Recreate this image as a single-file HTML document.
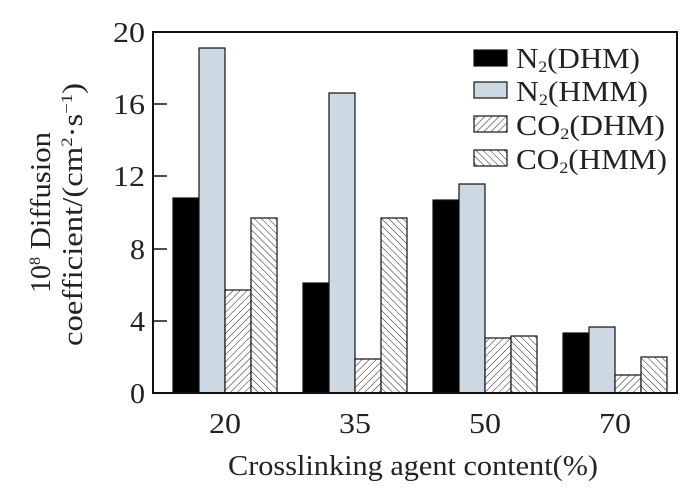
<!DOCTYPE html>
<html><head><style>body{margin:0;background:#fff}svg{display:block;font-family:"Liberation Serif",serif}</style></head><body>
<svg width="698" height="499" viewBox="0 0 698 499" xmlns="http://www.w3.org/2000/svg">
<defs>
<pattern id="f" width="5" height="5" patternUnits="userSpaceOnUse" patternTransform="rotate(45)"><rect width="5" height="5" fill="#fff"/><line x1="0" y1="0" x2="0" y2="5" stroke="#222" stroke-width="1"/></pattern>
<pattern id="b" width="5" height="5" patternUnits="userSpaceOnUse" patternTransform="rotate(-45)"><rect width="5" height="5" fill="#fff"/><line x1="0" y1="0" x2="0" y2="5" stroke="#222" stroke-width="1"/></pattern>
</defs>
<g stroke="#111" stroke-width="1.2">
<rect x="173" y="198" width="26" height="195" fill="#000"/>
<rect x="199" y="48" width="26" height="345" fill="#cdd9e2"/>
<rect x="225" y="290" width="26" height="103" fill="url(#f)"/>
<rect x="251" y="218" width="26" height="175" fill="url(#b)"/>
<rect x="303" y="283" width="26" height="110" fill="#000"/>
<rect x="329" y="93" width="26" height="300" fill="#cdd9e2"/>
<rect x="355" y="359" width="26" height="34" fill="url(#f)"/>
<rect x="381" y="218" width="26" height="175" fill="url(#b)"/>
<rect x="433" y="200" width="26" height="193" fill="#000"/>
<rect x="459" y="184" width="26" height="209" fill="#cdd9e2"/>
<rect x="485" y="338" width="26" height="55" fill="url(#f)"/>
<rect x="511" y="336" width="26" height="57" fill="url(#b)"/>
<rect x="563" y="333" width="26" height="60" fill="#000"/>
<rect x="589" y="327" width="26" height="66" fill="#cdd9e2"/>
<rect x="615" y="375" width="26" height="18" fill="url(#f)"/>
<rect x="641" y="357" width="26" height="36" fill="url(#b)"/>
</g>
<rect x="153" y="32" width="524" height="361" fill="none" stroke="#111" stroke-width="2"/>
<g stroke="#111" stroke-width="1.5">
<line x1="153" y1="321" x2="167" y2="321"/><line x1="153" y1="249" x2="167" y2="249"/><line x1="153" y1="176" x2="167" y2="176"/><line x1="153" y1="104" x2="167" y2="104"/>
</g>
<g font-size="28" text-anchor="end" fill="#222">
<text x="145" y="403" textLength="15" lengthAdjust="spacingAndGlyphs">0</text>
<text x="145" y="331" textLength="15" lengthAdjust="spacingAndGlyphs">4</text>
<text x="145" y="259" textLength="15" lengthAdjust="spacingAndGlyphs">8</text>
<text x="145" y="186" textLength="32" lengthAdjust="spacingAndGlyphs">12</text>
<text x="145" y="114" textLength="32" lengthAdjust="spacingAndGlyphs">16</text>
<text x="145" y="42" textLength="32" lengthAdjust="spacingAndGlyphs">20</text>
</g>
<g font-size="28" fill="#222">
<text x="209" y="433" textLength="32" lengthAdjust="spacingAndGlyphs">20</text>
<text x="339" y="433" textLength="32" lengthAdjust="spacingAndGlyphs">35</text>
<text x="469" y="433" textLength="32" lengthAdjust="spacingAndGlyphs">50</text>
<text x="599" y="433" textLength="32" lengthAdjust="spacingAndGlyphs">70</text>
<text x="228" y="475" textLength="370" lengthAdjust="spacingAndGlyphs">Crosslinking agent content(%)</text>
</g>
<g font-size="28" fill="#222">
<text transform="translate(50,293) rotate(-90)">10<tspan font-size="16" dy="-10">8</tspan><tspan dy="10" textLength="125" lengthAdjust="spacingAndGlyphs"> Diffusion</tspan></text>
<text transform="translate(82,346) rotate(-90)" textLength="263" lengthAdjust="spacingAndGlyphs">coefficient/(cm<tspan font-size="16" dy="-10">2</tspan><tspan dy="10">·s</tspan><tspan font-size="16" dy="-10">−1</tspan><tspan dy="10">)</tspan></text>
</g>
<g stroke="#111" stroke-width="1.2">
<rect x="474" y="50" width="33" height="16" fill="#000"/>
<rect x="474" y="82" width="33" height="16" fill="#cdd9e2"/>
<rect x="474" y="116" width="33" height="16" fill="url(#f)"/>
<rect x="474" y="150" width="33" height="16" fill="url(#b)"/>
</g>
<g font-size="28" fill="#222">
<text x="516" y="68" textLength="124" lengthAdjust="spacingAndGlyphs">N<tspan font-size="16" dy="4">2</tspan><tspan dy="-4">(DHM)</tspan></text>
<text x="516" y="101" textLength="132" lengthAdjust="spacingAndGlyphs">N<tspan font-size="16" dy="4">2</tspan><tspan dy="-4">(HMM)</tspan></text>
<text x="516" y="135" textLength="149" lengthAdjust="spacingAndGlyphs">CO<tspan font-size="16" dy="4">2</tspan><tspan dy="-4">(DHM)</tspan></text>
<text x="516" y="169" textLength="151" lengthAdjust="spacingAndGlyphs">CO<tspan font-size="16" dy="4">2</tspan><tspan dy="-4">(HMM)</tspan></text>
</g>
</svg>
</body></html>
